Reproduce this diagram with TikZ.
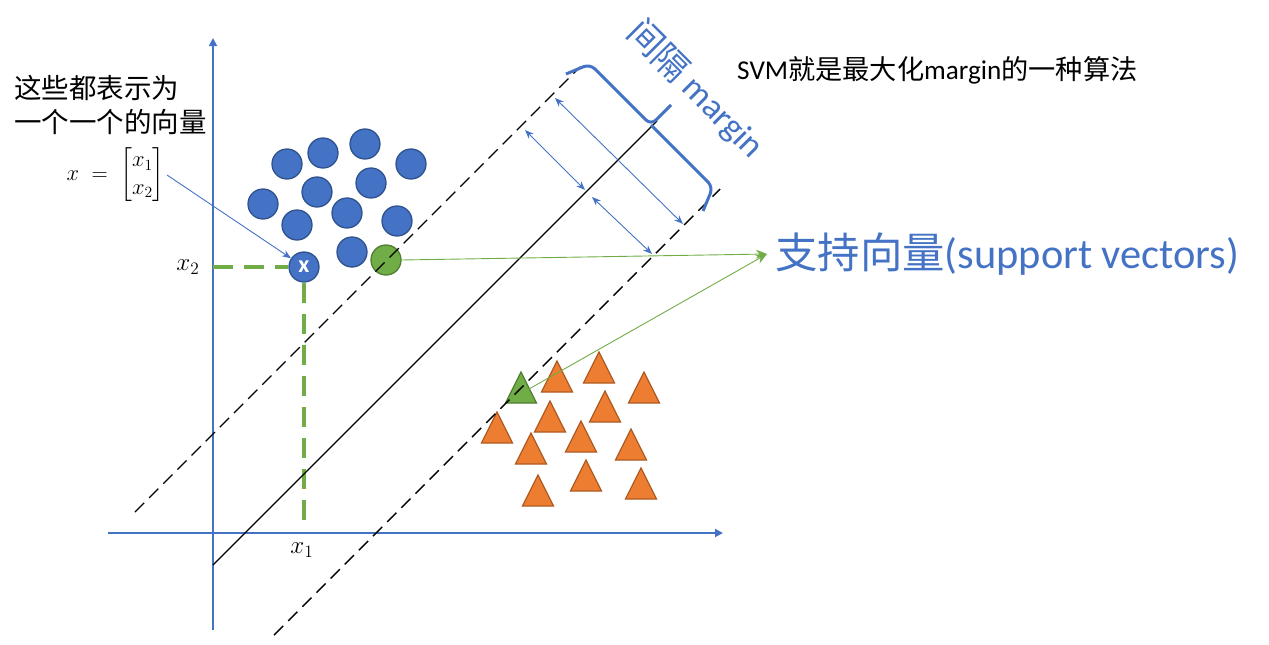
\RequirePackage{fix-cm}
\documentclass[tikz,border=0pt]{standalone}
\usepackage{amsmath}
\usepackage[no-math]{fontspec}
\setmainfont{Carlito}
\newfontfamily\cjk{Noto Sans CJK SC}
\usetikzlibrary{arrows.meta}
\definecolor{axisBlue}{HTML}{4472C4}
\definecolor{dotFill}{HTML}{4472C4}
\definecolor{dotEdge}{HTML}{2F528F}
\definecolor{svFill}{HTML}{70AD47}
\definecolor{svEdge}{HTML}{507E32}
\definecolor{triFill}{HTML}{ED7D31}
\definecolor{triEdge}{HTML}{AE5A21}
\newcommand{\bigmath}[2][1.45]{\scalebox{#1}{$#2$}}

\begin{document}
\begin{tikzpicture}[
  x=1pt, y=-1pt,
  axis/.style={draw=axisBlue, line width=1.8pt, -{Triangle[length=8pt,width=8pt]}},
  hyper/.style={draw=black, line width=1.4pt},
  bound/.style={hyper, dash pattern=on 13pt off 7pt},
  dot/.style={circle, fill=dotFill, draw=dotEdge, line width=1.3pt,
              minimum size=30pt, inner sep=0pt},
  svdot/.style={dot, fill=svFill, draw=svEdge},
  tri/.style={fill=triFill, draw=triEdge, line width=1.3pt},
  svtri/.style={tri, fill=svFill, draw=svEdge},
  guide/.style={draw=svFill, line width=4.5pt, dash pattern=on 20pt off 11pt},
  gap/.style={{Stealth[length=9pt,width=7pt]}-{Stealth[length=9pt,width=7pt]},
              draw=axisBlue, line width=0.9pt},
  ptr/.style={-{Stealth[length=9pt,width=7pt]}, draw=axisBlue, line width=0.9pt},
  svptr/.style={-{Stealth[length=11pt,width=9pt]}, draw=svFill, line width=0.9pt},
  brace/.style={draw=axisBlue, line width=3pt, rounded corners=7pt},
  mathlbl/.style={font=\fontsize{17.28}{21}\selectfont, inner sep=2pt},
]
\useasboundingbox (0,0) rectangle (1269,645);

% =============================== axes ======================================
\draw[axis] (108,533) -- (723,533);
\draw[axis] (213,630) -- (213,38);

% =============================== points ====================================
\node[dot] (d1)  at (287,164) {};
\node[dot] (d2)  at (323,153) {};
\node[dot] (d3)  at (365,144) {};
\node[dot] (d4)  at (411,164) {};
\node[dot] (d5)  at (317,192) {};
\node[dot] (d6)  at (371,183) {};
\node[dot] (d7)  at (263,204) {};
\node[dot] (d8)  at (297,225) {};
\node[dot] (d9)  at (347,213) {};
\node[dot] (d10) at (397,221) {};
\node[dot] (d11) at (352,252) {};
\node[dot, text=white, font=\bfseries\fontsize{24}{24}\selectfont]
  (xvec) at (304,267) {x};
\node[svdot] (gsv) at (386,260) {};

\foreach \x/\y in {557/392, 599/383, 644/403, 605/422, 550/432, 497/443,
                   581/452, 631/460, 531/464, 586/491, 641/499, 538/506}
  \draw[tri] (\x-15.5,\y) -- ++(15.5,-31) -- ++(15.5,31) -- cycle;
\draw[svtri] (505.5,403) -- ++(15.5,-31) -- ++(15.5,31) -- cycle;
\coordinate (gtri) at (529,389);

% projection of x onto the axes
\draw[guide] (213,267) -- (xvec.west);
\draw[guide] (xvec.south) -- (304,522);

% =============================== hyperplanes ===============================
\coordinate (hiA)  at (135,512);  \coordinate (hiB)  at (580,67);
\coordinate (midA) at (213,565);  \coordinate (midB) at (657,121);
\coordinate (loA)  at (274,635);  \coordinate (loB)  at (720,189);
\draw[bound] (hiA) -- (hiB);
\draw[hyper] (midA) -- (midB);
\draw[bound] (loA) -- (loB);

% widths of the margin
\coordinate (g1a) at (555,98);   \coordinate (g1b) at (683,224);
\coordinate (g2a) at (525,130);  \coordinate (g2b) at (585,190);
\coordinate (g3a) at (592,197);  \coordinate (g3b) at (652,254);
\draw[gap] (g1a) -- (g1b);
\draw[gap] (g2a) -- (g2b);
\draw[gap] (g3a) -- (g3b);

% brace over the margin
\draw[brace] (566,74) -- (590,64) -- (651,125) -- (671,105);
\draw[brace] (651,125) -- (713,187) -- (703,211);

% =============================== labels ====================================
\node[anchor=west, align=left, inner sep=0pt,
      font=\cjk\fontsize{27.5}{34}\selectfont] (note) at (14,105)
  {这些都表示为\\一个一个的向量};
\node[mathlbl, anchor=east] (vecdef) at (167,175)
  {\bigmath[1.3]{x \;=\; \left[\begin{matrix} x_1\\ x_2 \end{matrix}\right]}};
\node[mathlbl] (xtwo) at (188,267) {\bigmath{x_2}};
\node[mathlbl] (xone) at (302,550) {\bigmath{x_1}};

\node[rotate=-45, text=axisBlue, font=\fontsize{35}{40}\selectfont]
  (gaplab) at (696,89) {{\cjk 间隔} margin};

\node[anchor=west, inner sep=0pt, font=\fontsize{27.2}{30}\selectfont]
  (svmnote) at (737,70) {SVM{\cjk 就是最大化}margin{\cjk 的一种算法}};

\node[anchor=west, inner sep=8pt, text=axisBlue,
      font=\fontsize{42.4}{48}\selectfont] (svlab) at (767,254)
  {{\cjk 支持向量}(support vectors)};

% =============================== pointers ==================================
\draw[ptr] (vecdef.east) -- (xvec);
\draw[svptr] (gsv.east) -- (svlab.west);
\draw[svptr] (gtri) -- (svlab.west);

\end{tikzpicture}
\end{document}
